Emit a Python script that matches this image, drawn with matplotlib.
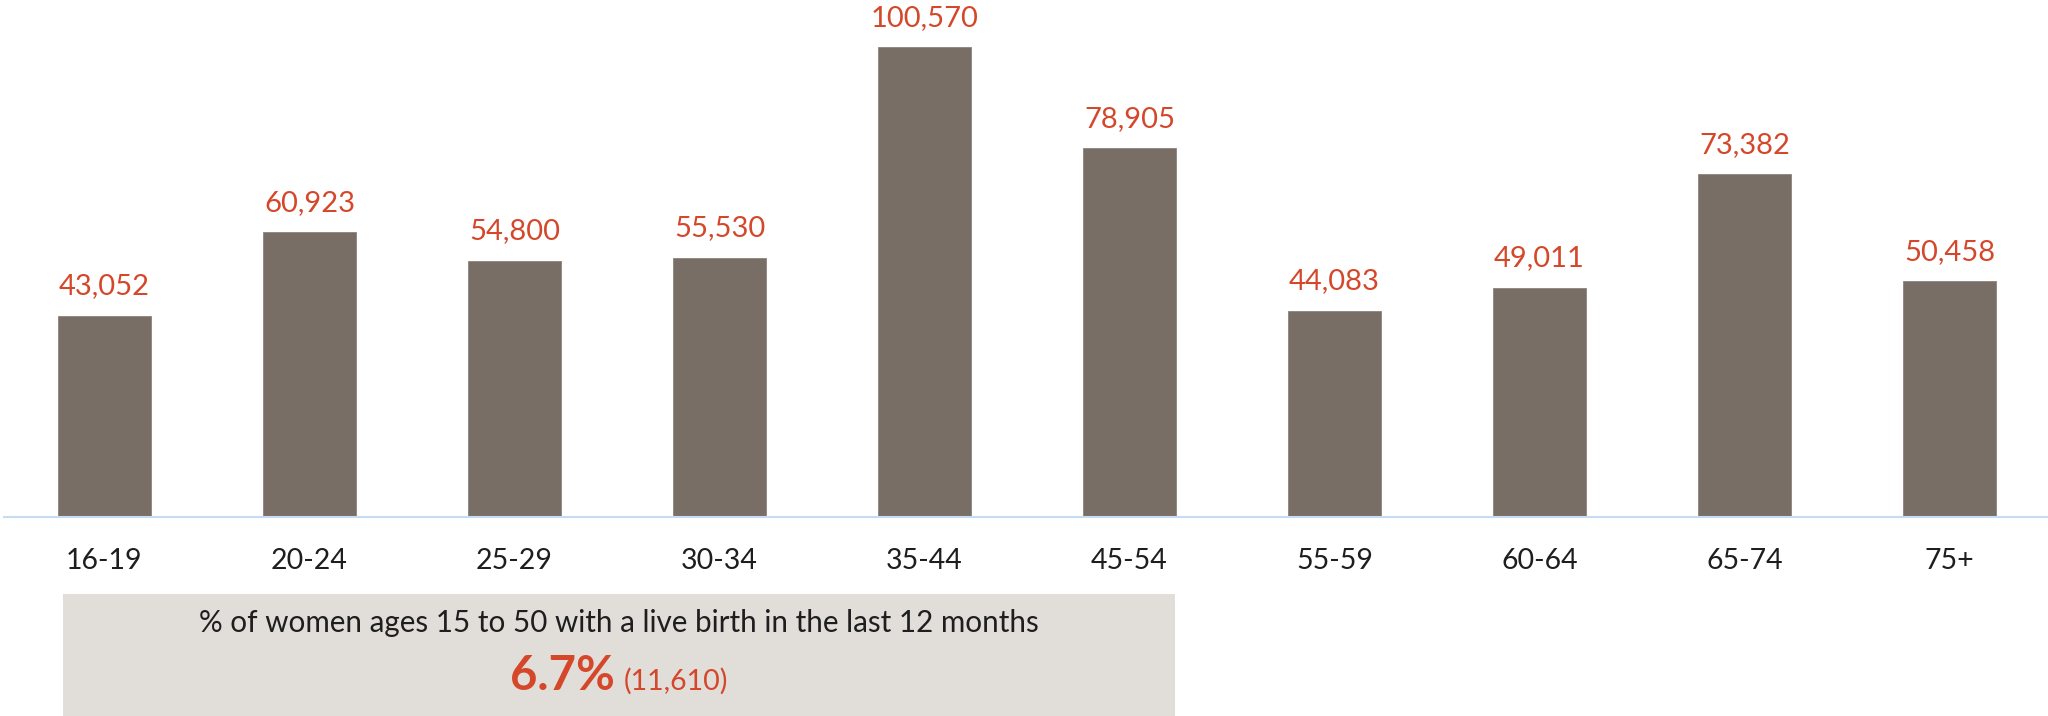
import matplotlib
matplotlib.use("Agg")
import matplotlib.pyplot as plt
from matplotlib.patches import Rectangle
from matplotlib.offsetbox import TextArea, HPacker, AnchoredOffsetbox

categories = ["16-19", "20-24", "25-29", "30-34", "35-44", "45-54", "55-59", "60-64", "65-74", "75+"]
values = [43052, 60923, 54800, 55530, 100570, 78905, 44083, 49011, 73382, 50458]
box_title = "% of women ages 15 to 50 with a live birth in the last 12 months"
box_pct = "6.7%"
box_count = "(11,610)"

W, H, DPI = 2048, 716, 100
plt.rcParams['font.family'] = ['Lato', 'DejaVu Sans']

BAR = "#786E65"
RED = "#D5472A"
TXT = "#1E1E1E"

fig = plt.figure(figsize=(W / DPI, H / DPI), dpi=DPI)
base_px = 517
left_px = 4
ax = fig.add_axes([left_px / W, 1 - base_px / H, 1 - left_px / W, base_px / H])

x = list(range(len(categories)))
ax.bar(x, values, width=0.454, color=BAR, edgecolor="#8C837B", linewidth=0.6)
ax.set_xlim(-0.49, 9.48)
ax.set_ylim(0, 110700)

for xi, v in zip(x, values):
    ax.annotate(f"{v:,}", (xi, v), xytext=(0, 12), textcoords="offset points",
                ha="center", va="bottom", fontsize=21, color=RED)

for s in ["top", "right", "left"]:
    ax.spines[s].set_visible(False)
ax.spines["bottom"].set_color("#C5DCF2")
ax.spines["bottom"].set_linewidth(1.5)
ax.set_yticks([])
ax.set_xticks(x)
ax.set_xticklabels(categories, fontsize=20.5, color=TXT)
ax.tick_params(axis="x", length=0, pad=22)

# info box
bx0, bx1, by0 = 63, 1175, 594
fig.patches.append(Rectangle((bx0 / W, 0), (bx1 - bx0) / W, 1 - by0 / H,
                             transform=fig.transFigure, facecolor="#E1DEDA",
                             edgecolor="none", zorder=0))
cx = (bx0 + bx1) / 2 / W
fig.text(cx, 1 - 623 / H, box_title, ha="center", va="center", fontsize=21.3, color=TXT)
ta1 = TextArea(box_pct, textprops=dict(fontsize=34, fontweight="bold", color=RED))
ta2 = TextArea(box_count, textprops=dict(fontsize=20.5, color=RED))
pack = HPacker(children=[ta1, ta2], align="baseline", pad=0, sep=6)
ab = AnchoredOffsetbox(loc="center", child=pack, frameon=False,
                       bbox_to_anchor=(cx, 1 - 676 / H), bbox_transform=fig.transFigure,
                       borderpad=0, pad=0)
fig.add_artist(ab)

fig.savefig("out.png", dpi=DPI)
